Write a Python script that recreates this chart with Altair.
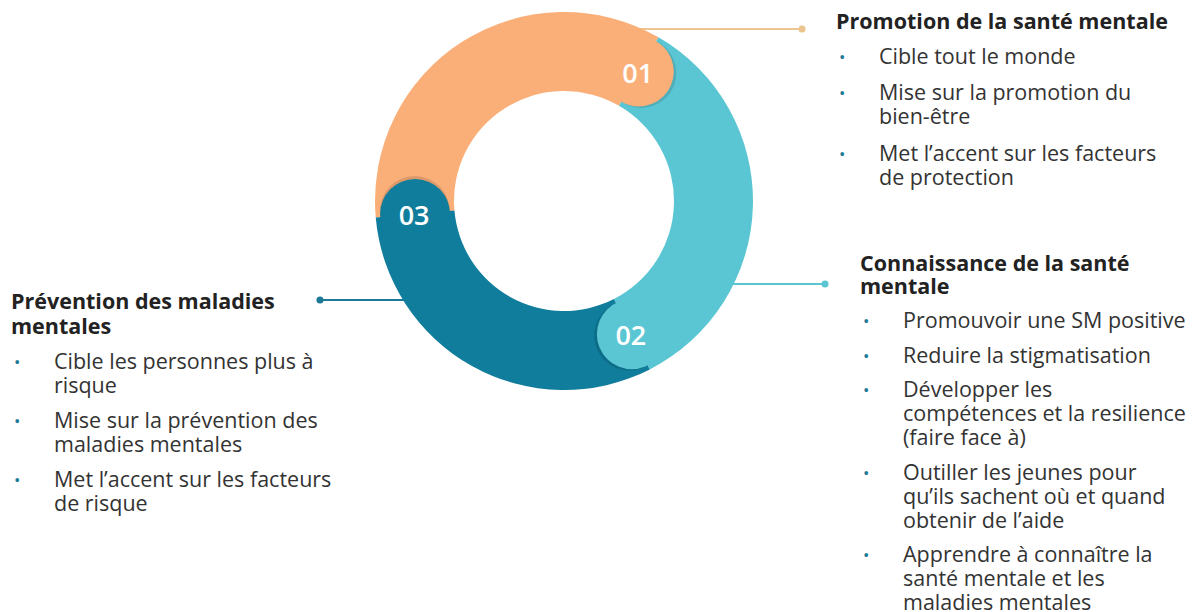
import math
import altair as alt
import pandas as pd

# ---------------- data ----------------
labels = ["01", "02", "03"]
seg_colors = ["#FAAF79", "#5BC6D3", "#0F7D9B"]
line_colors = ["#EBC48F", "#5BC6D3", "#1B7896"]
seg_start = [265, 30, 153]   # degrees, clockwise from 12 o'clock
seg_end = [390, 153, 265]

titles = [
    ["Promotion de la santé mentale"],
    ["Connaissance de la santé", "mentale"],
    ["Prévention des maladies", "mentales"],
]
bullets = [
    [["Cible tout le monde"],
     ["Mise sur la promotion du", "bien-être"],
     ["Met l’accent sur les facteurs", "de protection"]],
    [["Promouvoir une SM positive"],
     ["Reduire la stigmatisation"],
     ["Développer les", "compétences et la resilience", "(faire face à)"],
     ["Outiller les jeunes pour", "qu’ils sachent où et quand", "obtenir de l’aide"],
     ["Apprendre à connaître la", "santé mentale et les", "maladies mentales"]],
    [["Cible les personnes plus à", "risque"],
     ["Mise sur la prévention des", "maladies mentales"],
     ["Met l’accent sur les facteurs", "de risque"]],
]

# ---------------- layout ----------------
W, H = 1180, 604
X0, Y0 = 8, 8
CX, CY = 564, 201
R_OUT, R_IN = 189, 110
R_MID = (R_OUT + R_IN) / 2
CAP_R = (R_OUT - R_IN) / 2

block_x = [836, 860, 11]
title_y0 = [22.5, 265, 303]
title_step = [24, 22.5, 24.5]
title_gap = [35, 34.5, 35]
item_gap = [36.5, 34.5, 35]
LINE_STEP = 24
BULLET_DX = 3
TEXT_DX = 43
FS = 21.5

conn_y = [29, 284, 300]
conn_from = [620, 700, 320]
conn_to = [802, 825, 430]
dot_x = [802, 825, 320]

# ---------------- tables ----------------
arcs = pd.DataFrame({
    "seg": labels, "start": seg_start, "end": seg_end,
    "cx": [CX] * 3, "cy": [CY] * 3,
})
cap_ang = [math.radians(e % 360) for e in seg_end]
caps = pd.DataFrame({
    "seg": labels,
    "x": [CX + R_MID * math.sin(a) for a in cap_ang],
    "y": [CY - R_MID * math.cos(a) for a in cap_ang],
    "sx": [CX + R_MID * math.sin(a) + 3 * math.cos(a) for a in cap_ang],
    "sy": [CY - R_MID * math.cos(a) + 3 * math.sin(a) for a in cap_ang],
    "tx": [CX + R_MID * math.sin(a) - 1 for a in cap_ang],
    "ty": [CY - R_MID * math.cos(a) + 3 for a in cap_ang],
})
conns = pd.DataFrame({"seg": labels, "x": conn_from, "x2": conn_to, "y": conn_y})
dots = pd.DataFrame({"seg": labels, "x": dot_x, "y": conn_y})

rows_title, rows_body, rows_bullet = [], [], []
for i in range(3):
    for j, t in enumerate(titles[i]):
        rows_title.append({"x": block_x[i], "y": title_y0[i] + j * title_step[i], "text": t})
    y = title_y0[i] + (len(titles[i]) - 1) * title_step[i] + title_gap[i]
    for item in bullets[i]:
        rows_bullet.append({"x": block_x[i] + BULLET_DX, "y": y, "text": "•"})
        for k, line in enumerate(item):
            rows_body.append({"x": block_x[i] + TEXT_DX, "y": y + k * LINE_STEP, "text": line})
        y += (len(item) - 1) * LINE_STEP + item_gap[i]

df_title = pd.DataFrame(rows_title)
df_body = pd.DataFrame(rows_body)
df_bullet = pd.DataFrame(rows_bullet)

xs = alt.Scale(domain=[X0, X0 + W])
ys = alt.Scale(domain=[Y0, Y0 + H], reverse=True)
seg_scale = alt.Scale(domain=labels, range=seg_colors)
line_scale = alt.Scale(domain=labels, range=line_colors)

X = lambda f: alt.X(f, type="quantitative", scale=xs, axis=None)
Y = lambda f: alt.Y(f, type="quantitative", scale=ys, axis=None)

conn_layer = alt.Chart(conns).mark_rule(strokeWidth=2).encode(
    x=X("x"), x2="x2", y=Y("y"),
    color=alt.Color("seg:N", scale=line_scale, legend=None),
)
dot_layer = alt.Chart(dots).mark_circle(size=50, opacity=1).encode(
    x=X("x"), y=Y("y"),
    color=alt.Color("seg:N", scale=line_scale, legend=None),
)
arc_layer = alt.Chart(arcs).mark_arc(stroke=None).encode(
    x=X("cx"), y=Y("cy"),
    theta=alt.Theta("start:Q", scale=alt.Scale(domain=[0, 360], range=[0, 2 * math.pi])),
    theta2="end:Q",
    radius=alt.value(R_OUT), radius2=alt.value(R_IN),
    fill=alt.Fill("seg:N", scale=seg_scale, legend=None),
)
shadow_layer = alt.Chart(caps).mark_circle(opacity=0.12, color="#000000", strokeWidth=0).encode(
    x=X("sx"), y=Y("sy"),
    size=alt.value(math.pi * CAP_R ** 2),
)
cap_layer = alt.Chart(caps).mark_circle(opacity=1, strokeWidth=0).encode(
    x=X("x"), y=Y("y"),
    size=alt.value(math.pi * CAP_R ** 2),
    color=alt.Color("seg:N", scale=seg_scale, legend=None),
)
num_layer = alt.Chart(caps).mark_text(
    font="Open Sans", fontSize=27, fontWeight=600, color="#FFFFFF", baseline="middle", align="center"
).encode(x=X("tx"), y=Y("ty"), text="seg:N")

title_layer = alt.Chart(df_title).mark_text(
    font="Open Sans", fontSize=FS, fontWeight="bold", color="#222222", align="left", baseline="middle"
).encode(x=X("x"), y=Y("y"), text="text:N")
body_layer = alt.Chart(df_body).mark_text(
    font="Open Sans", fontSize=FS, color="#333333", align="left", baseline="middle"
).encode(x=X("x"), y=Y("y"), text="text:N")
bullet_layer = alt.Chart(df_bullet).mark_text(
    font="Open Sans", fontSize=17, color="#1B7896", align="left", baseline="middle"
).encode(x=X("x"), y=Y("y"), text="text:N")

chart = alt.layer(
    conn_layer, dot_layer, arc_layer, shadow_layer, cap_layer, num_layer,
    title_layer, body_layer, bullet_layer,
).resolve_scale(color="independent").properties(
    width=W, height=H, padding=0
).configure_view(stroke=None)

chart.save("out.html", embed_options={"renderer": "svg", "actions": False})
